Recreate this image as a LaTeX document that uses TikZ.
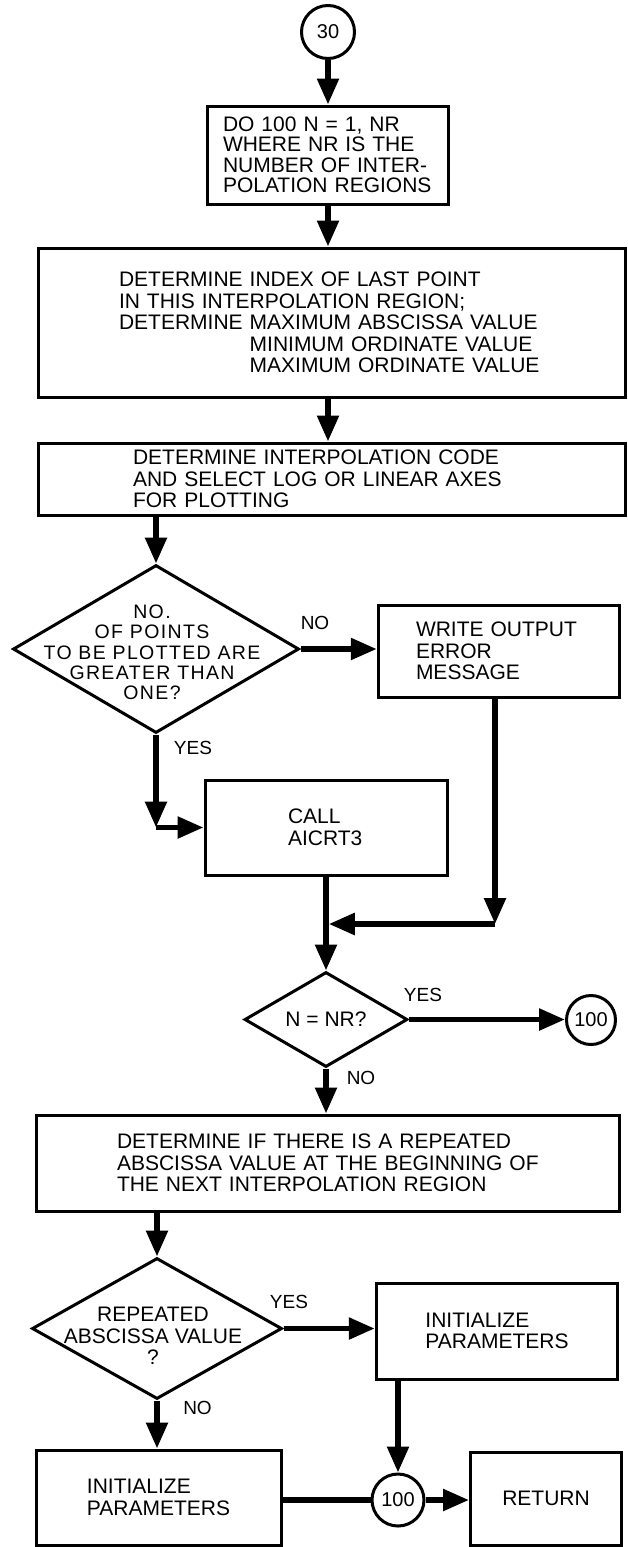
\documentclass[tikz,border=0pt]{standalone}
\usepackage{fontspec}
\setmainfont{Liberation Sans}
\newfontfamily\spacedsans[LetterSpace=7]{Liberation Sans}
\usetikzlibrary{shapes.geometric,arrows.meta}

% type sizes used in the chart
\newcommand\flowfont{\fontsize{21pt}{21.5pt}\selectfont}
\newcommand\flowfonttight{\fontsize{21pt}{20.5pt}\selectfont}
\newcommand\flowfontwide{\spacedsans\fontsize{19.5pt}{20.3pt}\selectfont}
\newcommand\tagfont{\fontsize{19pt}{19pt}\selectfont}
\newcommand\connfont{\fontsize{20pt}{20pt}\selectfont}

\begin{document}
\begin{tikzpicture}[x=1pt,y=-1pt,
  proc/.style={draw, rectangle, line width=3pt, inner sep=0pt, font=\flowfont, align=left},
  decision/.style={draw, diamond, line width=3pt, inner sep=0pt},
  dtext/.style={font=\flowfont, align=center, inner sep=0pt},
  conn/.style={draw, circle, line width=3pt, inner sep=0pt, font=\connfont},
  lbl/.style={font=\tagfont, inner sep=0pt},
  flow/.style={line width=5.5pt, -{Triangle[length=26pt,width=21pt]}},
  link/.style={line width=5.5pt}]

\useasboundingbox (0,0) rectangle (628,1547);

% entry connector
\node[conn, minimum size=53pt] (c30) at (328,32) {30};

% loop header
\node[proc, minimum width=241.5pt, minimum height=98pt, text width=210pt,
      font=\flowfonttight] (box1) at (328,155)
  {DO 100 N = 1, NR\\WHERE NR IS THE\\NUMBER OF INTER-\\POLATION REGIONS};

\node[proc, minimum width=587.5pt, minimum height=149pt, text width=426pt] (box2) at (332,322.5)
  {DETERMINE INDEX OF LAST POINT\\IN THIS INTERPOLATION REGION;\\DETERMINE MAXIMUM ABSCISSA VALUE\\%
   \hphantom{DETERMINE\ }MINIMUM ORDINATE VALUE\\\hphantom{DETERMINE\ }MAXIMUM ORDINATE VALUE};

\node[proc, minimum width=587.5pt, minimum height=72pt, text width=398pt] (box3) at (332,479)
  {DETERMINE INTERPOLATION CODE\\AND SELECT LOG OR LINEAR AXES\\FOR PLOTTING};

% point-count test
\node[decision, minimum width=286pt, minimum height=168pt] (d1) at (156,649) {};
\node[dtext, font=\flowfontwide] (d1text) at (152,652.5)
  {NO.\\OF POINTS\\TO BE PLOTTED ARE\\GREATER THAN\\ONE?};

\node[proc, minimum width=241.5pt, minimum height=92pt, text width=166pt] (box4) at (499,651)
  {WRITE OUTPUT\\ERROR\\MESSAGE};

\node[proc, minimum width=242pt, minimum height=95pt, text width=76pt] (box5) at (326,827.5)
  {CALL\\AICRT3};

% end-of-loop test
\node[decision, minimum width=163pt, minimum height=95pt] (d2) at (326,1019.5) {};
\node[dtext] (d2text) at (326,1019.5) {N = NR?};
\node[conn, minimum size=49pt] (c100a) at (591,1020) {100};

\node[proc, minimum width=583.5pt, minimum height=96pt, text width=422pt] (box6) at (328,1163)
  {DETERMINE IF THERE IS A REPEATED\\ABSCISSA VALUE AT THE BEGINNING OF\\THE NEXT INTERPOLATION REGION};

% repeated abscissa test
\node[decision, minimum width=250pt, minimum height=141pt] (d3) at (157,1328.5) {};
\node[dtext] (d3text) at (153,1336) {REPEATED\\ABSCISSA VALUE\\?};

\node[proc, minimum width=241.5pt, minimum height=96pt] (box7) at (497,1331)
  {INITIALIZE\\PARAMETERS};
\node[proc, minimum width=245pt, minimum height=95pt] (box8) at (158.5,1497.5)
  {INITIALIZE\\PARAMETERS};
\node[conn, minimum size=52pt] (c100b) at (398,1500) {100};
\node[proc, minimum width=151pt, minimum height=93pt] (box9) at (546,1498.5) {RETURN};

% branch labels
\node[lbl] (l1no)  at (315,623)  {NO};
\node[lbl] (l1yes) at (193,748)  {YES};
\node[lbl] (l2yes) at (423,995)  {YES};
\node[lbl] (l2no)  at (361,1078) {NO};
\node[lbl] (l3yes) at (289,1302) {YES};
\node[lbl] (l3no)  at (197.5,1408) {NO};

% bend points
\coordinate (j1) at (495,924);
\coordinate (k1) at (d1.south |- box5.west);

% connectors
\draw[flow] (c30) -- (box1);
\draw[flow] (box1) -- (box1 |- box2.north);
\draw[flow] (box2.south -| box1) -- (box3.north -| box1);
\draw[flow] (box3.south -| d1) -- (d1.north);
\draw[flow] (d1.east) -- (d1.east -| box4.west);
\draw[flow] (box4.south -| j1) -- (j1);
\draw[flow, shorten >=2.75pt] (j1) -- (j1 -| box5.south);
\draw[flow] (d1.south) -- (k1);
\draw[flow] (k1) -- (box5.west);
\draw[flow] (box5.south) -- (d2.north);
\draw[flow] (d2.east) -- (d2.east -| c100a.west);
\draw[flow] (d2.south) -- (d2.south |- box6.north);
\draw[flow] (box6.south -| d3) -- (d3.north);
\draw[flow] (d3.east) -- (d3.east -| box7.west);
\draw[flow] (d3.south) -- (d3.south |- box8.north);
\draw[flow] (box7.south -| c100b) -- (c100b.north);
\draw[link] (box8.east |- c100b) -- (c100b.west);
\draw[flow] (c100b.east) -- (c100b.east -| box9.west);

\end{tikzpicture}
\end{document}
